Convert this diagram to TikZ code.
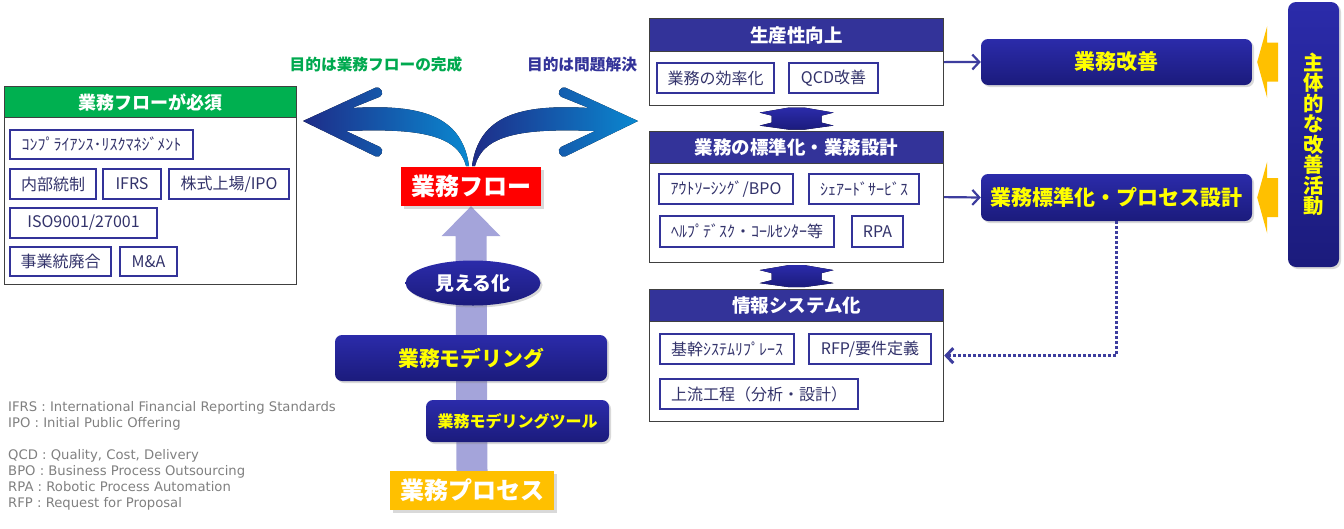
\documentclass[tikz,border=0pt]{standalone}
\usepackage{fontspec}
\setmainfont{DejaVu Sans}
\newfontfamily\jp{Noto Sans CJK JP}
\usetikzlibrary{shapes.geometric,shadows,arrows.meta,calc,backgrounds}
\definecolor{hdgreen}{HTML}{00B050}
\definecolor{hdnavy}{HTML}{333399}
\definecolor{chiptext}{HTML}{33336B}
\definecolor{framegray}{HTML}{404040}
\definecolor{pilltop}{HTML}{2B2BAA}
\definecolor{pillbot}{HTML}{1B1B7C}
\definecolor{pilltext}{HTML}{FFFF00}
\definecolor{flowred}{HTML}{FF0000}
\definecolor{procgold}{HTML}{FFC000}
\definecolor{upviolet}{HTML}{A4A4DA}
\definecolor{linknavy}{HTML}{3D3D9E}
\definecolor{armdark}{HTML}{1E2C88}
\definecolor{armlight}{HTML}{0A88D0}
\definecolor{goalgreen}{HTML}{00A94F}
\definecolor{legendgray}{HTML}{808080}
\tikzset{
  frame/.style={draw=framegray, line width=1.2pt, fill=white, inner sep=0pt, anchor=north west},
  headgreen/.style={frame, fill=hdgreen, text=white, font=\jp\bfseries\fontsize{18}{20}\selectfont},
  headnavy/.style={frame, fill=hdnavy, text=white, font=\jp\bfseries\fontsize{18.5}{20}\selectfont},
  chip/.style={draw=hdnavy, line width=2pt, fill=white, text=chiptext, inner sep=0pt,
    anchor=north west, font=\jp\fontsize{16}{18}\selectfont},
  pill/.style={rounded corners=7pt, top color=pilltop, bottom color=pillbot, draw=none,
    text=pilltext, inner sep=0pt, font=\jp\bfseries\fontsize{21}{22}\selectfont,
    drop shadow={shadow xshift=2pt, shadow yshift=-2pt, opacity=0.3}},
  plate/.style={draw=none, text=white, inner sep=0pt, font=\jp\bfseries\fontsize{24}{26}\selectfont,
    drop shadow={shadow xshift=3pt, shadow yshift=-3pt, opacity=0.3}},
  goal/.style={font=\jp\bfseries\fontsize{15.7}{17}\selectfont, inner sep=0pt},
  legend/.style={text=legendgray, align=left, inner sep=0pt, anchor=north west,
    font=\fontsize{13.2}{16}\selectfont},
  link/.style={draw=linknavy, line width=2.2pt, -{Straight Barb[length=7pt,width=15pt]}},
  dotlink/.style={draw=linknavy, line width=3pt, dash pattern=on 3pt off 2pt,
    -{Straight Barb[length=7pt,width=15pt]}},
  yarrow/.style={fill=procgold},
  updown/.pic={
    \fill[top color=pilltop, bottom color=pillbot] (-8,-11) -- (8,-11) -- (37,-6) -- (25,-3) -- (25,4)
      -- (37,7) -- (8,11) -- (-8,11) -- (-37,7) -- (-25,4) -- (-25,-3) -- (-37,-6) -- cycle;
  },
  flowarm/.pic={
    \fill[left color=armdark, right color=armlight]
      (303,121) -- (375.5,87.7) .. controls (380.5,85.3) and (385,94.3) .. (380,96.7)
      -- (352,108) .. controls (420,104) and (462,115) .. (469,166) -- (466,166)
      .. controls (458,135) and (420,128) .. (346,131) -- (380,147)
      .. controls (385,149.5) and (380.5,158.8) .. (375.5,156.3) -- cycle;
  }
}

\begin{document}
\begin{tikzpicture}[x=1pt, y=-1pt]
  \useasboundingbox (0,0) rectangle (1344,528);

  % left: what the flow is needed for
  \node[frame, minimum width=292, minimum height=198] (reqframe) at (4,86) {};
  \node[headgreen, minimum width=292, minimum height=31] (reqhead) at (4,86) {業務フローが必須};
  \node[chip, minimum width=183, minimum height=29] (comp) at (9,129) {ｺﾝﾌﾟﾗｲｱﾝｽ･ﾘｽｸﾏﾈｼﾞﾒﾝﾄ};
  \node[chip, minimum width=86, minimum height=30] (ictrl) at (9,168) {内部統制};
  \node[chip, minimum width=58, minimum height=30] (ifrs) at (102,168) {IFRS};
  \node[chip, minimum width=120, minimum height=30] (ipo) at (168,168) {株式上場/IPO};
  \node[chip, minimum width=147, minimum height=30] (iso) at (9,207) {ISO9001/27001};
  \node[chip, minimum width=101, minimum height=29] (merge) at (9,246) {事業統廃合};
  \node[chip, minimum width=57, minimum height=29] (mna) at (119,246) {M\&A};

  % goals
  \node[goal, text=goalgreen] (goalL) at (376,65) {目的は業務フローの完成};
  \node[goal, text=hdnavy] (goalR) at (582,65) {目的は問題解決};

  % centre column
  \node[plate, fill=flowred, minimum width=140, minimum height=39] (flow) at (471,186.5) {業務フロー};
  \node[ellipse, draw=none, top color=pilltop, bottom color=pillbot, text=white, inner sep=0pt,
    minimum width=135, minimum height=45, font=\jp\bfseries\fontsize{19}{20}\selectfont,
    drop shadow={shadow xshift=2pt, shadow yshift=-2pt, opacity=0.3}] (mieru) at (473,283) {見える化};
  \node[pill, minimum width=272, minimum height=46, font=\jp\bfseries\fontsize{20.8}{22}\selectfont] (model) at (471,358) {業務モデリング};
  \node[pill, minimum width=183, minimum height=42, font=\jp\bfseries\fontsize{16}{18}\selectfont] (tool) at (517.5,421) {業務モデリングツール};
  \node[plate, fill=procgold, minimum width=164, minimum height=39] (proc) at (472,490.5) {業務プロセス};

  \begin{scope}[on background layer]
    \fill[upviolet] ($(proc.north)+(-15.5,0)$) -- ($(flow.south)+(-15.5,30)$) -- ($(flow.south)+(-29.5,30)$)
      -- (flow.south) -- ($(flow.south)+(29.5,30)$) -- ($(flow.south)+(15.5,30)$)
      -- ($(proc.north)+(15.5,0)$) -- cycle;
    \pic at (0,0) {flowarm};
    \pic[xscale=-1] at (941,0) {flowarm};
  \end{scope}

  % right column frames
  \node[frame, minimum width=294, minimum height=87] (prodframe) at (649,18) {};
  \node[headnavy, minimum width=294, minimum height=33] (prodhead) at (649,18) {生産性向上};
  \node[chip, minimum width=117, minimum height=30] (eff) at (656,62) {業務の効率化};
  \node[chip, minimum width=89, minimum height=30] (qcd) at (788,62) {QCD改善};

  \node[frame, minimum width=294, minimum height=131] (stdframe) at (649,131) {};
  \node[headnavy, minimum width=294, minimum height=32] (stdhead) at (649,131) {業務の標準化・業務設計};
  \node[chip, minimum width=134, minimum height=30] (bpo) at (658,173) {ｱｳﾄｿｰｼﾝｸﾞ/BPO};
  \node[chip, minimum width=110, minimum height=30] (ssc) at (808,173) {ｼｪｱｰﾄﾞｻｰﾋﾞｽ};
  \node[chip, minimum width=174, minimum height=31] (help) at (659,215) {ﾍﾙﾌﾟﾃﾞｽｸ・ｺｰﾙｾﾝﾀｰ等};
  \node[chip, minimum width=51, minimum height=31] (rpa) at (851,215) {RPA};

  \node[frame, minimum width=294, minimum height=132] (sysframe) at (649,289) {};
  \node[headnavy, minimum width=294, minimum height=32] (syshead) at (649,289) {情報システム化};
  \node[chip, minimum width=134, minimum height=30] (core) at (659,333) {基幹ｼｽﾃﾑﾘﾌﾟﾚｰｽ};
  \node[chip, minimum width=122, minimum height=30] (rfp) at (808,333) {RFP/要件定義};
  \node[chip, minimum width=198, minimum height=30] (upper) at (659,378) {上流工程（分析・設計）};

  \pic at ($(prodframe.south)!0.5!(stdframe.north)$) {updown};
  \pic at ($(stdframe.south)!0.5!(sysframe.north)$) {updown};

  % improvement side
  \node[pill, minimum width=271, minimum height=46] (kaizen) at (1116.5,62) {業務改善};
  \node[pill, minimum width=271, minimum height=47] (stdpill) at (1116.5,197.5) {業務標準化・プロセス設計};
  \node[pill, rounded corners=8pt, minimum width=51, minimum height=265, align=center,
    font=\jp\bfseries\fontsize{20.4}{20.5}\selectfont] (actor) at (1313.5,134.5) {主\\体\\的\\な\\改\\善\\活\\動};
  \foreach \n in {kaizen,stdpill}
    \fill[yarrow] ($(\n.east)+(5,0)$) -- ++(10,-36) -- ++(0,16.5) -- ++(11,0) -- ++(0,39)
      -- ++(-11,0) -- ++(0,16.5) -- cycle;

  \draw[link] (prodframe.east) -- (kaizen.west);
  \draw[link] (stdframe.east) -- (stdpill.west);
  \draw[dotlink] (stdpill.south) |- (sysframe.east);

  % abbreviations
  \node[legend] (abbr) at (8,401) {IFRS : International Financial Reporting Standards\\
    IPO : Initial Public Offering\\[16pt]
    QCD : Quality, Cost, Delivery\\
    BPO : Business Process Outsourcing\\
    RPA : Robotic Process Automation\\
    RFP : Request for Proposal};
\end{tikzpicture}
\end{document}
